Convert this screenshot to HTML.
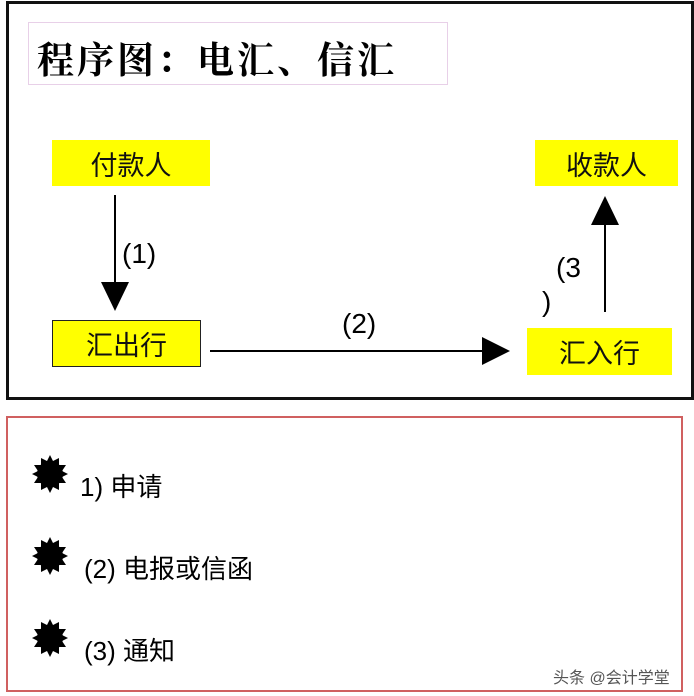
<!DOCTYPE html>
<html><head><meta charset="utf-8"><style>
body{margin:0;width:694px;height:696px;background:#fff;position:relative;overflow:hidden;font-family:"Liberation Sans","Noto Sans CJK SC",sans-serif}
.a{position:absolute}
.y{position:absolute;background:#ffff00;display:flex;align-items:center;justify-content:center;font-size:27px;color:#111}
.t{position:absolute;font-size:26px;color:#000;white-space:nowrap}
</style></head><body>
<div class="a" style="left:6px;top:1px;width:682px;height:393px;border:3px solid #111"></div>
<div class="a" style="left:28px;top:22px;width:418px;height:61px;border:1px solid #e8d0e8;background:#fff"></div>
<div class="a" style="left:37px;top:30px;font-size:37px;font-weight:bold;color:#000;white-space:nowrap;letter-spacing:3px;font-family:'Noto Serif CJK SC',serif">程序图：电汇、信汇</div>
<div class="y" style="left:52px;top:140px;width:158px;height:46px">付款人</div>
<div class="y" style="left:535px;top:140px;width:143px;height:46px">收款人</div>
<div class="y" style="left:52px;top:320px;width:149px;height:47px;border:1px solid #222;box-sizing:border-box">汇出行</div>
<div class="y" style="left:527px;top:328px;width:145px;height:47px">汇入行</div>
<svg class="a" style="left:0;top:0" width="694" height="696">
<line x1="115" y1="195" x2="115" y2="285" stroke="#000" stroke-width="2"/>
<polygon points="101,282 129,282 115,311" fill="#000"/>
<line x1="210" y1="351" x2="485" y2="351" stroke="#000" stroke-width="2"/>
<polygon points="482,337 482,365 510,351" fill="#000"/>
<line x1="605" y1="312" x2="605" y2="222" stroke="#000" stroke-width="2"/>
<polygon points="591,225 619,225 605,196" fill="#000"/>
<g fill="#000">
<polygon id="s" points="50,455 53,461 59,458 59,465 66,465 62,471 68,474 62,477 66,483 59,483 59,490 53,487 50,493 47,487 41,490 41,483 34,483 38,477 32,474 38,471 34,465 41,465 41,458 47,461"/>
<circle cx="50" cy="474" r="13"/>
<use href="#s" y="82"/><use href="#s" y="164"/>
<circle cx="50" cy="556" r="13"/><circle cx="50" cy="638" r="13"/>
</g>
</svg>
<div class="t" style="left:122px;top:238px;font-size:28px">(1)</div>
<div class="t" style="left:342px;top:308px;font-size:28px">(2)</div>
<div class="t" style="left:556px;top:252px;font-size:28px">(3</div>
<div class="t" style="left:542px;top:286px;font-size:28px">)</div>
<div class="a" style="left:6px;top:416px;width:673px;height:272px;border:2px solid #d06060"></div>
<div class="t" style="left:80px;top:467px">1) 申请</div>
<div class="t" style="left:84px;top:549px">(2) 电报或信函</div>
<div class="t" style="left:84px;top:631px">(3) 通知</div>
<div class="t" style="left:553px;top:664px;font-size:16px;color:#555">头条 @会计学堂</div>
</body></html>
